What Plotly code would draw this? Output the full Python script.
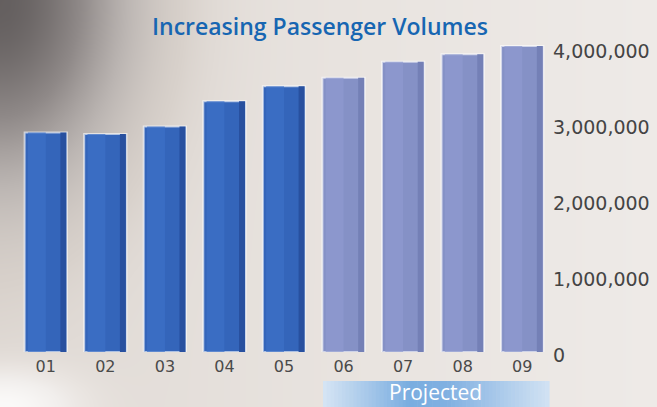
import numpy as np
import plotly.graph_objects as go

# ---- data ----
years = ["01", "02", "03", "04", "05", "06", "07", "08", "09"]
passengers = [2890000, 2870000, 2970000, 3300000, 3500000, 3610000, 3820000, 3920000, 4030000]
projected = [False, False, False, False, False, True, True, True, True]
tick_values = [0, 1000000, 2000000, 3000000, 4000000]
tick_labels = ["0", "1,000,000", "2,000,000", "3,000,000", "4,000,000"]
title_text = "Increasing Passenger Volumes"
projected_text = "Projected"

W, H = 657, 407

# ---- background (photographic gradient) ----
gx = np.linspace(0, W, 70)
gy = np.linspace(0, H, 44)
X, Y = np.meshgrid(gx, gy)
z = 0.90 + 0.08 * (X / W)
z = z - 0.85 * np.exp(-((X / 115.0) ** 2 + (Y / 165.0) ** 2))
z = z + 0.20 * np.exp(-((X / 70.0) ** 2 + ((Y - H) / 35.0) ** 2))
z = np.clip(z, 0, 1.1)

bg = go.Heatmap(
    x=gx, y=gy, z=z, zmin=0, zmax=1.1, zsmooth="best", showscale=False,
    colorscale=[[0.0, "#5e5959"], [0.35, "#8f8988"], [0.6, "#bbb5b2"],
    [0.78, "#d8d1cb"], [0.86, "#e9e4e0"], [0.91, "#f1eeec"], [1.0, "#fbfaf9"]],
    hoverinfo="skip", xaxis="x", yaxis="y",
)

main_colors = ["#8591c6" if p else "#3465ba" for p in projected]
edge_colors = ["#7480b6" if p else "#28509f" for p in projected]
light_colors = ["#8e9ad0" if p else "#3d70c8" for p in projected]

bars = go.Bar(
    x=years, y=passengers, width=0.71, offset=-0.355,
    marker=dict(color=main_colors, line=dict(color="rgba(255,255,255,0.6)", width=2)),
    xaxis="x2", yaxis="y2", hoverinfo="skip",
)
bars_light = go.Bar(
    x=years, y=passengers, width=0.3, offset=-0.3,
    marker=dict(color=light_colors, opacity=0.7, line=dict(width=0)),
    xaxis="x2", yaxis="y2", hoverinfo="skip",
)
bars_edge = go.Bar(
    x=years, y=passengers, width=0.1, offset=0.245,
    marker=dict(color=edge_colors, line=dict(width=0)),
    xaxis="x2", yaxis="y2", hoverinfo="skip",
)

fig = go.Figure([bg, bars, bars_light, bars_edge])

x0, x1 = 16, 552
ybase, ytop = 352, 33
ymax = 4200000

fig.update_layout(
    width=W, height=H,
    margin=dict(l=0, r=0, t=0, b=0, autoexpand=False),
    paper_bgcolor="#efebe8", plot_bgcolor="rgba(0,0,0,0)",
    showlegend=False, hovermode=False, barmode="overlay",
    xaxis=dict(domain=[0, 1], range=[0, W], visible=False, fixedrange=True, automargin=False),
    yaxis=dict(domain=[0, 1], range=[H, 0], visible=False, fixedrange=True, automargin=False),
    xaxis2=dict(
        domain=[x0 / W, x1 / W], anchor="y2", range=[-0.5, 8.5], automargin=False,
        showgrid=False, zeroline=False, showline=False, ticks="", fixedrange=True,
        tickfont=dict(family="DejaVu Sans", size=16, color="#4a4a4a"),
        ticklabelstandoff=3,
    ),
    yaxis2=dict(
        domain=[(H - ybase) / H, (H - ytop) / H], anchor="x2", side="right",
        range=[0, ymax], showgrid=False, zeroline=False, showline=False, ticks="",
        tickvals=tick_values, ticktext=tick_labels, automargin=False, fixedrange=True,
        tickfont=dict(family="DejaVu Sans", size=19, color="#444444"),
        ticklabelshift=3, ticklabelstandoff=0,
    ),
)

# faint light streak at top left
fig.add_shape(type="rect", xref="paper", yref="paper",
              x0=30 / W, x1=140 / W, y0=(H - 53) / H, y1=(H - 47) / H,
              fillcolor="rgba(255,255,255,0.22)", line=dict(width=0), layer="below")

# title
fig.add_annotation(
    x=320 / W, y=(H - 26) / H, xref="paper", yref="paper",
    text=title_text, showarrow=False, xanchor="center", yanchor="middle",
    font=dict(family="Open Sans", size=23, color="#1766b2", weight=600),
)

# Projected banner with horizontal gradient
bx0, bx1, by0 = 323, 549, 381
stops = [(0.0, (214, 229, 244)), (0.38, (122, 173, 224)), (0.55, (128, 176, 225)), (1.0, (210, 226, 243))]
n = 60
for i in range(n):
    t = (i + 0.5) / n
    for k in range(len(stops) - 1):
        if stops[k][0] <= t <= stops[k + 1][0]:
            a, ca = stops[k]
            b, cb = stops[k + 1]
            f = (t - a) / (b - a)
            c = tuple(int(round(ca[j] + (cb[j] - ca[j]) * f)) for j in range(3))
            break
    sx0 = bx0 + (bx1 - bx0) * i / n
    sx1 = bx0 + (bx1 - bx0) * (i + 1) / n + 0.6
    fig.add_shape(
        type="rect", xref="paper", yref="paper",
        x0=sx0 / W, x1=sx1 / W, y0=0, y1=(H - by0) / H,
        fillcolor="rgb(%d,%d,%d)" % c, line=dict(width=0), layer="above",
    )

fig.add_annotation(
    x=435 / W, y=0, xref="paper", yref="paper",
    text=projected_text, showarrow=False, xanchor="center", yanchor="bottom",
    borderpad=0, font=dict(family="Open Sans", size=21, color="#ffffff"),
)

fig.write_html("out.html", config={"displayModeBar": False},
               post_script="document.body.style.margin='0px';document.body.style.padding='0px';")
